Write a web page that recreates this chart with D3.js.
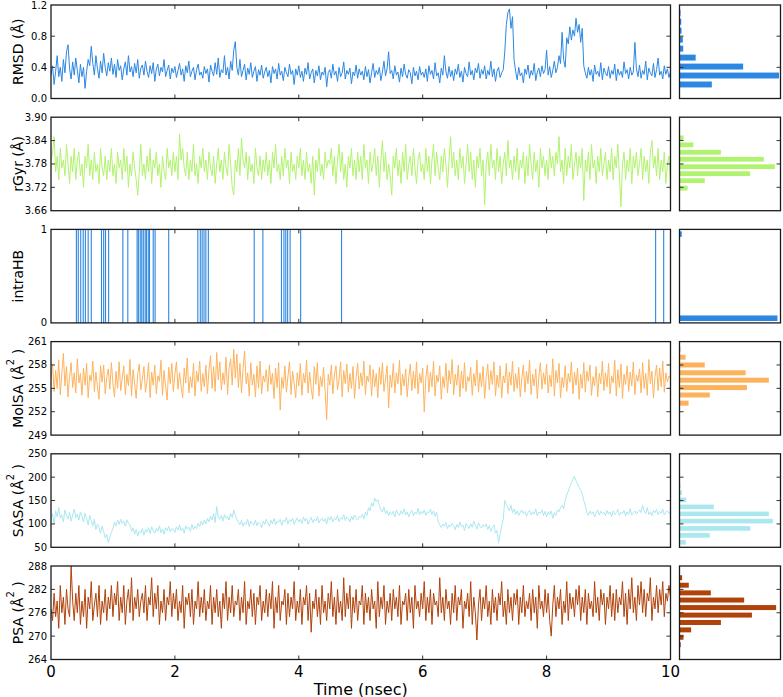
<!DOCTYPE html>
<html><head><meta charset="utf-8">
<script src="https://cdn.jsdelivr.net/npm/d3@7"></script>
<style>body{margin:0;background:#fff}svg{display:block}text{font-family:"DejaVu Sans",sans-serif;fill:#000}</style>
</head><body><svg id="c" width="783" height="697"></svg>
<script>
// ---------------- data ----------------
const timeStep = 0.025; // ns between samples
const timeTicks = [0, 2, 4, 6, 8, 10];

const rmsd = [
0.30,0.42,0.18,0.35,0.55,0.28,0.40,0.22,0.50,0.33,0.60,0.69,0.38,0.25,0.47,0.30,0.52,0.36,0.20,0.44,
0.28,0.40,0.13,0.35,0.50,0.42,0.67,0.45,0.30,0.55,0.38,0.26,0.48,0.33,0.58,0.40,0.29,0.46,0.35,0.52,
0.31,0.44,0.27,0.50,0.36,0.42,0.24,0.38,0.47,0.30,0.55,0.34,0.41,0.28,0.45,0.33,0.50,0.26,0.39,0.43,
0.30,0.48,0.35,0.27,0.42,0.32,0.46,0.22,0.38,0.44,0.29,0.40,0.34,0.50,0.28,0.36,0.43,0.25,0.39,0.33,
0.41,0.27,0.36,0.45,0.30,0.38,0.22,0.42,0.33,0.48,0.28,0.35,0.40,0.24,0.37,0.44,0.30,0.34,0.26,0.41,
0.32,0.38,0.21,0.43,0.35,0.29,0.46,0.31,0.52,0.27,0.37,0.33,0.55,0.30,0.40,0.25,0.48,0.36,0.62,0.73,
0.40,0.30,0.50,0.28,0.36,0.44,0.24,0.39,0.31,0.46,0.27,0.35,0.41,0.22,0.37,0.30,0.43,0.26,0.34,0.40,
0.28,0.36,0.20,0.41,0.32,0.38,0.25,0.45,0.30,0.35,0.23,0.40,0.33,0.28,0.44,0.31,0.36,0.18,0.38,0.30,
0.42,0.27,0.35,0.22,0.39,0.31,0.46,0.25,0.33,0.38,0.20,0.36,0.29,0.42,0.24,0.34,0.30,0.40,0.15,0.33,
0.37,0.26,0.44,0.30,0.35,0.22,0.40,0.28,0.33,0.47,0.25,0.36,0.31,0.39,0.19,0.34,0.29,0.43,0.26,0.38,
0.30,0.35,0.24,0.41,0.28,0.37,0.20,0.33,0.45,0.27,0.36,0.31,0.40,0.23,0.34,0.48,0.29,0.38,0.60,0.32,
0.36,0.25,0.42,0.30,0.34,0.21,0.39,0.28,0.44,0.31,0.26,0.37,0.33,0.19,0.40,0.29,0.35,0.24,0.41,0.30,
0.34,0.27,0.38,0.22,0.42,0.31,0.36,0.25,0.46,0.29,0.33,0.20,0.39,0.30,0.55,0.34,0.26,0.41,0.28,0.36,
0.23,0.38,0.31,0.44,0.27,0.35,0.21,0.40,0.32,0.28,0.47,0.30,0.36,0.24,0.39,0.33,0.45,0.26,0.37,0.31,
0.42,0.25,0.36,0.30,0.48,0.28,0.38,0.22,0.35,0.40,0.27,0.33,0.37,0.60,0.95,1.10,1.15,0.90,1.05,0.50,
0.35,0.24,0.40,0.29,0.33,0.20,0.38,0.31,0.43,0.26,0.36,0.30,0.45,0.23,0.34,0.39,0.28,0.42,0.32,0.37,
0.62,0.30,0.41,0.27,0.36,0.48,0.33,0.40,0.55,0.45,0.85,0.50,0.40,0.78,0.70,0.92,0.75,0.88,0.80,1.03,
0.85,0.95,0.72,0.90,0.42,0.33,0.26,0.40,0.30,0.37,0.22,0.43,0.31,0.35,0.28,0.46,0.24,0.39,0.33,0.29,
0.41,0.26,0.36,0.31,0.44,0.23,0.38,0.30,0.35,0.27,0.47,0.32,0.37,0.25,0.40,0.30,0.34,0.72,0.38,0.28,
0.43,0.26,0.36,0.31,0.48,0.24,0.39,0.33,0.29,0.45,0.27,0.37,0.52,0.30,0.35,0.25,0.42,0.31,0.38,0.27,
0.34];

const rgyr = [
3.79,3.81,3.85,3.76,3.80,3.74,3.82,3.77,3.79,3.75,3.83,3.78,3.73,3.80,3.76,3.82,3.74,3.79,3.81,3.75,
3.78,3.72,3.80,3.77,3.83,3.75,3.79,3.74,3.81,3.76,3.78,3.73,3.82,3.77,3.75,3.80,3.74,3.79,3.76,3.82,
3.75,3.78,3.73,3.81,3.77,3.79,3.74,3.82,3.76,3.80,3.72,3.78,3.75,3.81,3.77,3.74,3.70,3.76,3.83,3.75,
3.78,3.74,3.80,3.76,3.82,3.73,3.79,3.77,3.81,3.75,3.78,3.72,3.80,3.76,3.74,3.82,3.77,3.79,3.75,3.81,
3.76,3.80,3.74,3.857,3.79,3.82,3.77,3.75,3.81,3.74,3.79,3.76,3.83,3.75,3.78,3.73,3.80,3.77,3.82,3.76,
3.79,3.74,3.81,3.77,3.75,3.80,3.73,3.78,3.82,3.76,3.79,3.74,3.81,3.77,3.75,3.83,3.78,3.72,3.70,3.79,
3.76,3.82,3.75,3.846,3.79,3.77,3.81,3.74,3.80,3.76,3.78,3.73,3.82,3.77,3.75,3.80,3.74,3.79,3.76,3.81,
3.75,3.79,3.73,3.81,3.77,3.83,3.76,3.78,3.74,3.80,3.75,3.82,3.77,3.79,3.73,3.81,3.76,3.78,3.74,3.80,
3.77,3.82,3.75,3.79,3.74,3.81,3.76,3.78,3.73,3.80,3.70,3.79,3.76,3.82,3.75,3.78,3.74,3.81,3.77,3.79,
3.78,3.82,3.75,3.80,3.73,3.79,3.83,3.76,3.81,3.74,3.78,3.72,3.80,3.77,3.82,3.75,3.79,3.74,3.81,3.76,
3.80,3.74,3.83,3.77,3.79,3.73,3.81,3.76,3.78,3.82,3.75,3.80,3.72,3.79,3.84,3.76,3.81,3.74,3.78,3.75,
3.70,3.80,3.77,3.82,3.75,3.79,3.73,3.81,3.76,3.83,3.74,3.78,3.80,3.75,3.82,3.77,3.73,3.79,3.81,3.76,
3.78,3.74,3.82,3.76,3.80,3.73,3.79,3.83,3.75,3.81,3.77,3.74,3.80,3.76,3.82,3.78,3.72,3.79,3.85,3.77,
3.81,3.75,3.79,3.74,3.82,3.77,3.80,3.73,3.78,3.83,3.76,3.81,3.74,3.79,3.72,3.80,3.77,3.82,3.75,3.79,
3.675,3.78,3.81,3.75,3.83,3.77,3.79,3.74,3.82,3.76,3.80,3.73,3.78,3.81,3.75,3.84,3.77,3.79,3.74,3.80,
3.76,3.82,3.74,3.79,3.77,3.81,3.73,3.80,3.75,3.83,3.78,3.74,3.81,3.76,3.79,3.72,3.82,3.77,3.80,3.75,
3.79,3.74,3.82,3.77,3.80,3.75,3.81,3.78,3.85,3.76,3.79,3.73,3.82,3.75,3.80,3.77,3.83,3.74,3.78,3.81,
3.75,3.80,3.77,3.82,3.686,3.79,3.76,3.81,3.74,3.83,3.77,3.79,3.73,3.80,3.76,3.82,3.75,3.78,3.81,3.74,
3.79,3.76,3.82,3.74,3.80,3.77,3.83,3.75,3.67,3.78,3.81,3.74,3.79,3.76,3.82,3.73,3.80,3.77,3.81,3.75,
3.78,3.82,3.74,3.80,3.76,3.79,3.73,3.81,3.84,3.77,3.80,3.75,3.82,3.74,3.79,3.76,3.81,3.73,3.78,3.80,
3.72];

// times (ns) at which an intramolecular H-bond is present (value 1)
const hbEvents = [0.41,0.44,0.48,0.52,0.555,0.60,0.65,0.815,0.85,0.88,0.93,1.16,1.24,
1.39,1.41,1.44,1.465,1.49,1.52,1.54,1.57,1.59,1.65,1.68,1.90,
2.37,2.41,2.44,2.47,2.50,2.54,3.28,3.42,3.72,3.76,3.79,3.82,3.86,4.03,4.69,9.76,9.89];

const molsa = [
256.2,258.1,254.6,257.3,255.0,258.6,254.2,256.9,259.5,255.3,257.8,253.9,256.5,258.3,255.1,257.0,254.4,258.8,255.7,256.9,
254.1,257.6,255.4,258.2,253.8,256.7,255.9,258.5,254.6,257.1,255.2,253.6,257.9,255.8,258.0,254.3,256.4,257.5,254.9,258.3,
255.6,253.9,257.2,255.0,258.4,254.7,256.3,257.9,254.2,256.8,255.3,258.7,254.0,257.4,255.6,253.7,256.9,258.1,254.8,256.2,
257.8,254.5,256.0,258.3,253.8,257.1,255.4,258.0,254.3,256.6,255.9,258.6,254.1,257.3,255.2,253.5,257.7,255.6,258.2,254.6,
256.8,258.4,254.9,257.0,255.3,253.8,257.6,255.7,258.9,254.4,256.5,255.1,258.2,254.0,257.2,255.8,258.5,254.6,256.9,255.2,
258.0,254.3,257.4,259.2,255.0,257.8,254.6,259.6,256.1,258.4,254.8,257.0,255.5,259.0,254.2,257.6,258.8,255.4,260.0,256.3,
259.4,255.1,258.2,254.4,257.5,259.8,255.6,257.0,254.0,258.3,255.4,256.8,253.9,257.9,255.0,258.5,254.3,256.6,255.8,257.4,
254.6,258.0,255.5,256.9,253.7,257.6,255.1,258.3,252.2,256.4,255.0,257.9,254.5,256.6,258.4,254.2,257.2,255.6,253.8,257.0,
255.3,258.2,254.1,256.9,255.7,258.6,254.4,257.1,255.0,253.6,257.8,255.5,258.3,254.0,256.5,255.2,257.7,254.6,251.0,256.8,
255.4,258.0,254.3,256.7,257.9,254.8,256.2,258.4,253.9,257.3,255.6,258.1,254.5,256.9,255.0,257.8,253.7,256.4,258.2,254.9,
257.0,255.3,258.5,254.2,256.6,255.8,258.0,254.0,257.4,255.2,256.9,253.8,257.7,255.5,258.3,254.6,256.2,257.9,252.5,256.7,
255.1,258.2,254.4,257.0,255.6,258.6,254.1,256.8,255.3,257.5,253.9,256.4,258.1,254.7,257.2,255.0,258.4,254.3,256.9,255.7,
257.6,252.0,256.3,258.0,254.5,257.1,255.2,258.5,254.0,256.7,255.8,257.9,253.6,256.5,255.1,258.2,254.4,257.3,255.6,258.7,
254.2,256.8,255.4,258.0,253.9,257.2,255.0,258.3,254.6,256.5,255.9,257.7,254.1,256.9,255.3,258.6,254.5,257.0,255.2,257.8,
253.7,256.4,258.1,254.8,257.3,255.5,258.4,254.0,256.7,255.1,257.9,253.8,256.6,255.7,258.2,254.3,257.1,255.4,258.5,254.6,
256.9,255.0,257.7,253.9,256.3,258.0,254.5,257.2,255.6,258.6,254.2,256.8,255.3,257.5,253.7,256.5,258.3,254.9,257.0,255.5,
258.1,254.4,256.7,255.2,258.8,254.0,257.3,255.7,258.2,253.8,256.4,255.1,257.9,254.6,256.9,255.8,258.4,254.3,257.1,255.4,
257.6,253.6,256.8,255.0,258.3,254.5,257.2,255.9,258.0,254.1,256.5,255.3,257.8,253.9,256.9,255.6,258.5,254.7,257.0,255.2,
258.2,254.3,256.6,255.7,258.6,254.0,257.4,255.1,258.1,253.7,256.8,255.5,257.9,254.6,257.1,255.3,258.4,254.2,256.7,255.9,
257.5,254.4,258.3,255.0,256.9,254.1,258.7,255.6,257.2,253.8,256.5,258.0,254.7,257.6,255.2,258.5,254.5,257.0,255.8,256.6,
256.4];

const sasa = [
108,122,100,128,115,135,112,120,104,130,118,110,125,106,119,132,113,121,108,126,
117,104,123,112,98,118,107,96,110,88,100,92,80,95,84,70,78,60,72,82,
90,104,96,108,99,110,101,106,95,109,102,98,84,92,78,88,74,85,80,90,
76,88,82,92,79,94,85,80,90,84,96,81,89,78,92,86,95,83,90,88,
82,94,87,98,85,91,80,96,89,93,84,99,88,95,90,102,94,106,98,108,
100,112,104,117,108,122,103,137,115,110,118,106,120,112,116,108,122,114,130,118,
110,104,98,108,95,103,99,110,94,106,100,97,108,96,104,101,92,106,99,110,
102,95,108,100,112,98,106,103,110,97,108,104,114,100,109,105,112,99,107,113,
104,110,101,115,106,112,99,108,114,103,110,106,116,102,109,113,105,111,100,114,
108,116,104,112,109,118,105,113,110,120,107,115,111,104,117,109,119,112,108,116,
114,120,110,125,118,135,128,145,138,155,148,152,140,130,125,136,122,128,118,126,
120,127,115,130,122,118,128,121,132,119,126,115,124,129,117,125,121,133,119,127,
122,130,118,126,124,132,120,128,116,125,105,98,92,100,95,103,90,98,94,101,
96,88,99,92,104,94,98,86,101,95,90,100,93,106,97,89,102,95,91,99,
94,100,88,96,84,92,98,80,86,60,78,95,110,150,142,135,128,140,124,132,
120,128,118,125,130,122,127,116,124,129,119,126,121,132,117,125,123,130,118,127,
115,126,120,128,112,124,118,130,126,135,140,132,150,162,170,180,188,195,202,192,
185,178,172,165,150,138,125,118,128,121,126,115,124,130,119,127,122,125,118,129,
121,126,115,128,120,124,131,118,125,122,129,117,126,120,133,119,124,128,121,126,
130,124,140,128,122,135,120,126,118,129,124,131,120,127,123,132,119,125,128,122,
125];

const psa = [
277,274,281,275,279,272,283,276,280,273,282,277,275,288,279,274,281,276,283,273,
279,275,282,272,280,277,284,274,278,281,275,283,273,279,276,282,274,280,277,283,
275,281,278,284,274,280,276,283,273,279,282,276,285,274,280,277,282,275,279,281,
276,283,274,280,278,285,275,281,277,283,273,279,276,282,274,280,278,284,275,281,
277,282,274,279,276,283,272,280,278,281,275,282,273,279,277,284,275,280,276,282,
274,279,277,283,273,280,276,282,275,279,272,281,277,284,274,280,276,283,275,279,
278,282,274,280,276,284,273,279,277,282,275,281,273,280,278,283,274,279,276,282,
275,281,277,284,272,280,276,283,274,279,278,282,273,281,275,280,277,284,274,279,
276,282,273,280,278,283,274,281,271,279,277,282,275,280,273,283,276,279,274,281,
277,284,275,280,273,282,276,279,274,285,275,281,277,283,272,280,276,282,274,279,
278,283,273,281,276,280,274,282,277,279,272,284,275,280,277,283,273,279,276,281,
274,282,277,280,275,283,273,279,278,281,274,282,276,280,272,283,277,279,275,281,
277,284,274,280,276,282,273,281,278,279,275,285,276,280,274,282,277,279,273,281,
276,283,274,280,278,282,272,279,277,281,275,284,273,280,276,269,278,282,274,280,
277,283,275,279,273,282,276,280,274,281,278,284,275,279,273,282,276,280,274,281,
278,282,273,280,276,283,275,279,277,281,274,282,276,280,272,283,277,279,275,282,
276,281,274,270,278,283,275,280,277,282,273,279,276,284,274,281,277,280,275,282,
278,283,274,280,276,282,273,281,277,279,275,284,276,280,274,282,278,281,273,280,
277,283,275,281,274,282,276,280,278,284,275,281,273,282,277,285,276,280,274,283,
278,284,276,282,275,281,279,285,274,280,277,283,276,282,278,284,275,281,279,283,
280];

// histograms: bin centres and relative frequency
const rmsdHistBins = [0.18,0.295,0.41,0.525,0.64,0.755,0.87,0.985,1.10];
const rmsdHistFreq = [0.32,0.985,0.63,0.16,0.037,0.033,0.02,0.017,0.01];
const rgyrHistBins = [3.718,3.737,3.755,3.773,3.792,3.810,3.829,3.847];
const rgyrHistFreq = [0.08,0.25,0.70,0.944,0.835,0.41,0.138,0.04];
const hbHistBins = [0.05,0.95];
const hbHistFreq = [0.97,0.022];
const molsaHistBins = [253.1,254.15,255.1,256.05,257.0,258.0,259.0,260.0];
const molsaHistFreq = [0.09,0.30,0.668,0.885,0.655,0.25,0.06,0.01];
const sasaHistBins = [60.6,75.5,90.4,106,121.6,136.5,151.4,167,182];
const sasaHistFreq = [0.063,0.30,0.70,0.924,0.885,0.34,0.066,0.023,0.01];
const psaHistBins = [267.8,269.7,271.6,273.5,275.4,277.33,279.26,281.1,283.07,285.0];
const psaHistFreq = [0.012,0.04,0.115,0.41,0.717,0.957,0.64,0.31,0.092,0.026];

const rmsdTicks = [0.0,0.4,0.8,1.2];
const rgyrTicks = [3.66,3.72,3.78,3.84,3.90];
const hbTicks = [0,1];
const molsaTicks = [249,252,255,258,261];
const sasaTicks = [50,100,150,200,250];
const psaTicks = [264,270,276,282,288];

// ---------------- layout ----------------
const svg = d3.select("#c");
const mainL = 51, mainR = 670.5, histL = 679.5, histR = 780.5;
const panelH = 93.5, panelStep = 112.2, top0 = 5;

const panels = [
  {label:["RMSD (Å)"], data:rmsd, ticks:rmsdTicks, fmt:d3.format(".1f"), color:"#2c87e2", hb:rmsdHistBins, hf:rmsdHistFreq, bw:0.115},
  {label:["rGyr (Å)"], data:rgyr, ticks:rgyrTicks, fmt:d3.format(".2f"), color:"#b1f26e", hb:rgyrHistBins, hf:rgyrHistFreq, bw:0.0185},
  {label:["intraHB"], events:hbEvents, ticks:hbTicks, fmt:d3.format("d"), color:"#2c87e2", hb:hbHistBins, hf:hbHistFreq, bw:0.09},
  {label:["MolSA (Å","2"," )"], data:molsa, ticks:molsaTicks, fmt:d3.format("d"), color:"#fdb35e", hb:molsaHistBins, hf:molsaHistFreq, bw:0.97},
  {label:["SASA (Å","2"," )"], data:sasa, ticks:sasaTicks, fmt:d3.format("d"), color:"#aae7ef", hb:sasaHistBins, hf:sasaHistFreq, bw:14.9},
  {label:["PSA (Å","2"," )"], data:psa, ticks:psaTicks, fmt:d3.format("d"), color:"#b0420b", hb:psaHistBins, hf:psaHistFreq, bw:1.93}
];

const x = d3.scaleLinear().domain([0,10]).range([mainL, mainR]);
const hx = d3.scaleLinear().domain([0,1]).range([histL, histR]);
const tickLen = 4;

panels.forEach((p, k) => {
  const top = top0 + k*panelStep, bot = top + panelH;
  const dom = [p.ticks[0], p.ticks[p.ticks.length-1]];
  const y = d3.scaleLinear().domain(dom).range([bot, top]);
  const g = svg.append("g");

  const cid = "clip"+k;
  svg.append("clipPath").attr("id",cid).append("rect")
    .attr("x",mainL).attr("y",top).attr("width",mainR-mainL).attr("height",panelH);

  if (p.data) {
    const line = d3.line().x((d,i)=>x(i*timeStep)).y(d=>y(d));
    g.append("path").datum(p.data).attr("d",line).attr("fill","none")
      .attr("stroke",p.color).attr("stroke-width",1).attr("stroke-linejoin","miter")
      .attr("clip-path",`url(#${cid})`);
  } else {
    g.selectAll("line.ev").data(p.events).join("line").attr("class","ev")
      .attr("x1",d=>x(d)).attr("x2",d=>x(d)).attr("y1",y(0)).attr("y2",y(1))
      .attr("stroke",p.color).attr("stroke-width",1.1);
  }

  // histogram
  g.selectAll("rect.h").data(p.hb.map((b,i)=>({b, f:p.hf[i]}))).join("rect").attr("class","h")
    .attr("x",hx(0)).attr("width",d=>hx(d.f)-hx(0))
    .attr("y",d=>y(d.b + p.bw*0.33)).attr("height",d=>y(d.b - p.bw*0.33)-y(d.b + p.bw*0.33))
    .attr("fill",p.color);

  // ticks (inward)
  const inner = p.ticks.slice(1,-1);
  const tk = g.append("g").attr("stroke","#333").attr("stroke-width",1);
  inner.forEach(v => {
    [[mainL, mainL+tickLen],[mainR, mainR-tickLen],[histL, histL+tickLen],[histR, histR-tickLen]].forEach(([a,b])=>{
      tk.append("line").attr("x1",a).attr("x2",b).attr("y1",y(v)).attr("y2",y(v));
    });
  });
  timeTicks.slice(1,-1).forEach(v => {
    tk.append("line").attr("x1",x(v)).attr("x2",x(v)).attr("y1",top).attr("y2",top+tickLen);
    tk.append("line").attr("x1",x(v)).attr("x2",x(v)).attr("y1",bot).attr("y2",bot-tickLen);
  });

  // frames
  [[mainL,mainR],[histL,histR]].forEach(([a,b])=>{
    g.append("rect").attr("x",a).attr("y",top).attr("width",b-a).attr("height",panelH)
      .attr("fill","none").attr("stroke","#1a1a1a").attr("stroke-width",1.3);
  });

  // y tick labels
  g.selectAll("text.yt").data(p.ticks).join("text").attr("class","yt")
    .attr("x",mainL-4).attr("y",d=>y(d)).attr("dy","0.35em")
    .attr("text-anchor","end").attr("font-size",10).text(d=>p.fmt(d));

  // y label
  const t = g.append("text").attr("transform",`translate(23,${(top+bot)/2}) rotate(-90)`)
    .attr("text-anchor","middle").attr("font-size",14);
  t.append("tspan").text(p.label[0]);
  if (p.label.length > 1) {
    t.append("tspan").attr("font-size",10).attr("dy",-9).text(p.label[1]);
    t.append("tspan").attr("dy",9).text(p.label[2]);
  }
});

// x axis labels on bottom panel
const lastBot = top0 + 5*panelStep + panelH;
svg.selectAll("text.xt").data(timeTicks).join("text").attr("class","xt")
  .attr("x",d=>x(d)).attr("y",lastBot+17).attr("text-anchor","middle")
  .attr("font-size",15).text(d=>d);
svg.append("text").attr("x",x(5)).attr("y",lastBot+35).attr("text-anchor","middle")
  .attr("font-size",16).text("Time (nsec)");
</script></body></html>
